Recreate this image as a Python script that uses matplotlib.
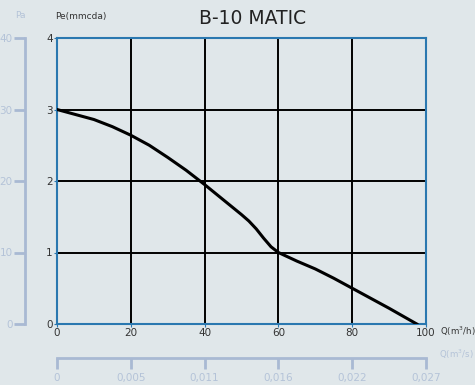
import numpy as np
import matplotlib.pyplot as plt

# curve: Q (m3/h) vs Pe (mmcda)
q = [0, 5, 10, 15, 20, 25, 30, 35, 40, 45, 50, 52, 54, 56, 58, 60, 65, 70, 75, 80, 85, 90, 97.5]
pe = [3.0, 2.93, 2.86, 2.76, 2.64, 2.5, 2.33, 2.15, 1.95, 1.74, 1.53, 1.44, 1.33, 1.2, 1.08, 1.0,
      0.88, 0.77, 0.64, 0.5, 0.36, 0.22, 0.0]

x_ticks = [0, 20, 40, 60, 80, 100]
y_ticks = [0, 1, 2, 3, 4]
pa_ticks = [0, 10, 20, 30, 40]
qs_labels = ['0', '0,005', '0,011', '0,016', '0,022', '0,027']

bg = '#e0e7ea'
blue = '#2a78b0'
light = '#a9b9d3'
light_txt = '#b4c3d8'
dark = '#333333'

fig = plt.figure(figsize=(4.75, 3.85), dpi=100, facecolor=bg)
ax = fig.add_axes([57/475, 61/385, 369/475, 286/385], facecolor=bg)

ax.plot(q, pe, color='black', lw=2.2, zorder=3, solid_joinstyle='round')
ax.set_xlim(0, 100)
ax.set_ylim(0, 4)
ax.set_xticks(x_ticks)
ax.set_yticks(y_ticks)
ax.grid(True, color='black', lw=1.4)
for s in ax.spines.values():
    s.set_color(blue)
    s.set_linewidth(1.5)
ax.tick_params(colors=blue, labelcolor=dark, labelsize=7.5, length=2, pad=1)

# Pa scale on the left
sec_y = ax.secondary_yaxis(-32/369, functions=(lambda y: y * 10, lambda y: y / 10))
sec_y.set_yticks(pa_ticks)
sec_y.spines['left'].set_color(light)
sec_y.spines['left'].set_linewidth(2)
sec_y.tick_params(colors=light, labelcolor=light_txt, labelsize=7.5, length=8, width=2, pad=1)

# m3/s scale at the bottom
sec_x = ax.secondary_xaxis(-34/286)
sec_x.set_xticks(x_ticks, labels=qs_labels)
sec_x.spines['bottom'].set_color(light)
sec_x.spines['bottom'].set_linewidth(2)
sec_x.tick_params(colors=light, labelcolor=light_txt, labelsize=7.5, length=8, width=2, pad=3)

fig.text(253/475, 1 - 19/385, 'B-10 MATIC', ha='center', va='center', fontsize=13.5, color='#222222')
fig.text(20/475, 1 - 16/385, 'Pa', ha='center', va='center', fontsize=6.5, color=light_txt)
fig.text(55/475, 1 - 16/385, 'Pe(mmcda)', ha='left', va='center', fontsize=6.5, color=dark)
fig.text(440/475, 1 - 331/385, 'Q(m$^3$/h)', ha='left', va='center', fontsize=6.2, color=dark)
fig.text(474/475, 1 - 354/385, 'Q(m$^3$/s)', ha='right', va='center', fontsize=6.2, color=light_txt)

fig.savefig('out.png', dpi=100, facecolor=bg)
